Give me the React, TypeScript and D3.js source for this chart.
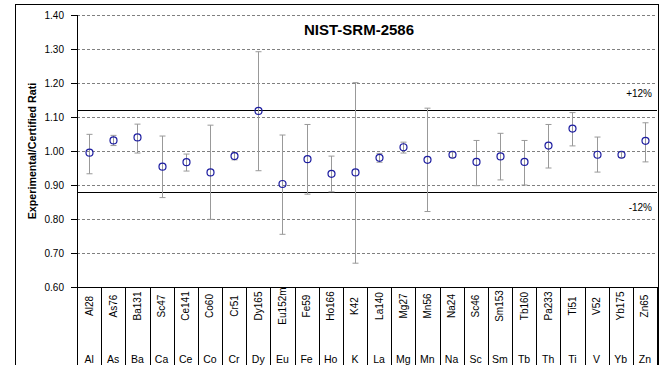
import React from "react";
import * as d3 from "d3";

const isotopes = ["Al28", "As76", "Ba131", "Sc47", "Ce141", "Co60", "Cr51", "Dy165", "Eu152m", "Fe59", "Ho166", "K42",
  "La140", "Mg27", "Mn56", "Na24", "Sc46", "Sm153", "Tb160", "Pa233", "Ti51", "V52", "Yb175", "Zn65"];
const elements = ["Al", "As", "Ba", "Ca", "Ce", "Co", "Cr", "Dy", "Eu", "Fe", "Ho", "K",
  "La", "Mg", "Mn", "Na", "Sc", "Sm", "Tb", "Th", "Ti", "V", "Yb", "Zn"];
const ratio = [0.995, 1.031, 1.040, 0.954, 0.967, 0.937, 0.985, 1.118, 0.903, 0.976, 0.933, 0.937,
  0.980, 1.011, 0.974, 0.989, 0.968, 0.984, 0.968, 1.016, 1.066, 0.989, 0.989, 1.030];
const upper = [1.049, 1.046, 1.079, 1.044, 0.991, 1.076, 0.996, 1.292, 1.047, 1.078, 0.985, 1.201,
  0.993, 1.026, 1.126, 0.997, 1.031, 1.052, 1.031, 1.078, 1.113, 1.041, 0.997, 1.083];
const lower = [0.933, 1.016, 0.994, 0.863, 0.941, 0.799, 0.974, 0.942, 0.755, 0.873, 0.880, 0.670,
  0.967, 0.994, 0.822, 0.981, 0.898, 0.915, 0.900, 0.950, 1.015, 0.938, 0.981, 0.968];
const yTicks = [0.6, 0.7, 0.8, 0.9, 1.0, 1.1, 1.2, 1.3, 1.4];
const limits = [{ v: 1.12, label: "+12%" }, { v: 0.88, label: "-12%" }];

export default function App() {
  const width = 663;
  const height = 365;
  const margin = { top: 15, right: 6, bottom: 78, left: 77 };
  const x0 = margin.left;
  const x1 = width - margin.right;
  const yBottom = height - margin.bottom;

  const x = d3.scaleBand().domain(isotopes).range([x0, x1]);
  const y = d3.scaleLinear().domain([0.6, 1.4]).range([yBottom, margin.top]);
  const font = "Arial, 'Liberation Sans', sans-serif";

  return (
    <svg width={width} height={height} style={{ position: "absolute", left: 0, top: 0 }} fontFamily={font}>
      <rect x={0} y={0} width={width} height={height} fill="#fff" />
      <rect x={15.5} y={4.5} width={643} height={380} fill="none" stroke="#000" />

      {yTicks.map(t => (
        <g key={t}>
          <line x1={x0} x2={x1} y1={Math.round(y(t)) + 0.5} y2={Math.round(y(t)) + 0.5}
            stroke="#808080" strokeDasharray="3,2" />
          <line x1={x0 - 6} x2={x0} y1={Math.round(y(t)) + 0.5} y2={Math.round(y(t)) + 0.5} stroke="#000" />
          <text x={x0 - 13} y={y(t) + 3.5} textAnchor="end" fontSize={10} fill="#000">{t.toFixed(2)}</text>
        </g>
      ))}

      {limits.map(l => (
        <g key={l.label}>
          <line x1={x0} x2={x1} y1={Math.round(y(l.v)) + 0.5} y2={Math.round(y(l.v)) + 0.5} stroke="#000" />
          <text x={x1 - 5} y={y(l.v) + (l.v > 1 ? -13 : 19)} textAnchor="end" fontSize={10}>{l.label}</text>
        </g>
      ))}

      <line x1={x0 + 0.5} x2={x0 + 0.5} y1={margin.top} y2={height} stroke="#000" />
      <line x1={x0} x2={x1} y1={yBottom + 0.5} y2={yBottom + 0.5} stroke="#000" />
      {isotopes.map((d, i) => (
        <g key={d}>
          <line x1={Math.round(x(d)! + x.bandwidth()) + 0.5} x2={Math.round(x(d)! + x.bandwidth()) + 0.5}
            y1={yBottom} y2={height} stroke="#000" />
          <text transform={`translate(${x(d)! + x.bandwidth() / 2 + 3.5},${yBottom + 19}) rotate(-90)`}
            textAnchor="middle" fontSize={10}>{d}</text>
          <text x={x(d)! + x.bandwidth() / 2} y={yBottom + 76} textAnchor="middle" fontSize={10.5}>{elements[i]}</text>
        </g>
      ))}

      {isotopes.map((d, i) => {
        const cx = Math.round(x(d)! + x.bandwidth() / 2) + 0.5;
        return (
          <g key={d}>
            <line x1={cx} x2={cx} y1={y(upper[i])} y2={y(lower[i])} stroke="#999" />
            <line x1={cx - 3} x2={cx + 3} y1={y(upper[i])} y2={y(upper[i])} stroke="#999" />
            <line x1={cx - 3} x2={cx + 3} y1={y(lower[i])} y2={y(lower[i])} stroke="#999" />
            <circle cx={cx} cy={y(ratio[i])} r={3.5} fill="none" stroke="#1c1ca0" strokeWidth={1.2} />
          </g>
        );
      })}

      <text x={359} y={35} textAnchor="middle" fontSize={15} fontWeight="bold">NIST-SRM-2586</text>
      <text transform={`translate(36,${(margin.top + yBottom) / 2}) rotate(-90)`} textAnchor="middle"
        fontSize={10.7} fontWeight="bold">Experimental/Certified Rati</text>
    </svg>
  );
}
